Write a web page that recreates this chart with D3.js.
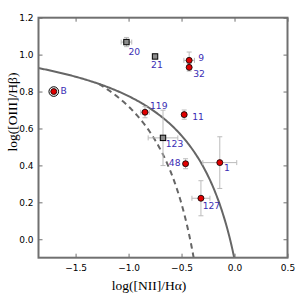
<!DOCTYPE html>
<html>
<head>
<meta charset="utf-8">
<script src="https://cdn.jsdelivr.net/npm/d3@7"></script>
<style>
  body { margin: 0; background: #fff; }
  svg { display: block; }
  .tick text { font-family: "DejaVu Sans", sans-serif; font-size: 9px; fill: #000; }
</style>
</head>
<body>
<div id="chart"></div>
<script>
// BPT diagram values
var names  = ["20", "21", "9", "32", "119", "11", "123", "48", "1", "127", "B"];
var logNII = [-1.02, -0.75, -0.428, -0.428, -0.845, -0.475, -0.675, -0.462, -0.139, -0.317, -1.706];
var logOIII = [1.068, 0.99, 0.969, 0.931, 0.688, 0.675, 0.549, 0.409, 0.415, 0.222, 0.80];
var errNII = [0.05, 0, 0.05, 0, 0.04, 0.02, 0.14, 0.02, 0.16, 0.085, 0];
var errOIII = [0.025, 0, 0.045, 0.02, 0.03, 0.025, 0.15, 0.027, 0.14, 0.095, 0];
var kind = ["sq", "sq", "c", "c", "c", "c", "sq", "c", "c", "c", "B"];

var xTicks = [-1.5, -1.0, -0.5, 0.0, 0.5];
var yTicks = [0.0, 0.2, 0.4, 0.6, 0.8, 1.0, 1.2];

var svgWidth = 300, svgHeight = 300;
var margin = { top: 17.7, right: 12.5, bottom: 42.3, left: 38.5 };
var width = svgWidth - margin.left - margin.right;
var height = svgHeight - margin.top - margin.bottom;

var svg = d3.select("#chart").append("svg")
  .attr("width", svgWidth)
  .attr("height", svgHeight);
var chart = svg.append("g")
  .attr("transform", "translate(" + margin.left + "," + margin.top + ")");

var x = d3.scaleLinear().domain([-1.85, 0.5]).range([0, width]);
var y = d3.scaleLinear().domain([-0.1, 1.2]).range([height, 0]);

var fmt = function(d) { return d3.format(".1f")(d).replace("-", "\u2212"); };
var spine = "#707070";

// clip for curves
chart.append("clipPath").attr("id", "clip")
  .append("rect").attr("width", width).attr("height", height);

// Kewley 2001 and Kauffmann 2003 lines
var kew = d3.range(-1.85, 0.0001, 0.01).map(function(v) { return [v, 0.61 / (v - 0.47) + 1.19]; });
var kau = d3.range(-1.28, -0.37, 0.005).map(function(v) { return [v, 0.61 / (v - 0.05) + 1.3]; });
var line = d3.line().x(function(d) { return x(d[0]); }).y(function(d) { return y(d[1]); });

chart.append("path").datum(kew).attr("d", line)
  .attr("clip-path", "url(#clip)")
  .attr("fill", "none").attr("stroke", "#666").attr("stroke-width", 2);
chart.append("path").datum(kau).attr("d", line)
  .attr("clip-path", "url(#clip)")
  .attr("fill", "none").attr("stroke", "#666").attr("stroke-width", 2)
  .attr("stroke-dasharray", "5.5,4");

// error bars
var eb = chart.append("g").attr("stroke", "#bbb").attr("stroke-width", 1).attr("fill", "none");
names.forEach(function(n, i) {
  var cx = x(logNII[i]), cy = y(logOIII[i]);
  if (errNII[i] > 0) {
    var x0 = x(logNII[i] - errNII[i]), x1 = x(logNII[i] + errNII[i]);
    eb.append("line").attr("x1", x0).attr("x2", x1).attr("y1", cy).attr("y2", cy);
    eb.append("line").attr("x1", x0).attr("x2", x0).attr("y1", cy - 2.5).attr("y2", cy + 2.5);
    eb.append("line").attr("x1", x1).attr("x2", x1).attr("y1", cy - 2.5).attr("y2", cy + 2.5);
  }
  if (errOIII[i] > 0) {
    var y0 = y(logOIII[i] - errOIII[i]), y1 = y(logOIII[i] + errOIII[i]);
    eb.append("line").attr("x1", cx).attr("x2", cx).attr("y1", y0).attr("y2", y1);
    eb.append("line").attr("x1", cx - 2.5).attr("x2", cx + 2.5).attr("y1", y0).attr("y2", y0);
    eb.append("line").attr("x1", cx - 2.5).attr("x2", cx + 2.5).attr("y1", y1).attr("y2", y1);
  }
});

// markers
names.forEach(function(n, i) {
  var cx = x(logNII[i]), cy = y(logOIII[i]);
  if (kind[i] == "sq") {
    chart.append("rect").attr("x", cx - 2.7).attr("y", cy - 2.7)
      .attr("width", 5.4).attr("height", 5.4)
      .attr("fill", "#8c8c8c").attr("stroke", "#000").attr("stroke-width", 1);
  } else {
    if (kind[i] == "B") {
      chart.append("circle").attr("cx", cx).attr("cy", cy).attr("r", 4.8)
        .attr("fill", "#fff").attr("stroke", "#000").attr("stroke-width", 1);
    }
    chart.append("circle").attr("cx", cx).attr("cy", cy).attr("r", 3)
      .attr("fill", "#e00000").attr("stroke", "#000").attr("stroke-width", 0.8);
  }
});

// labels
var labelOffset = [[2, 12.6], [-4, 11.4], [9, 1], [4, 9.7], [5, -3.4], [8, 5.3],
                   [2.7, 9.4], [-5, 2.4], [4.3, 8.4], [1.7, 11], [6.7, 2]];
chart.selectAll(".lbl").data(names).enter().append("text")
  .attr("class", "lbl")
  .attr("x", function(d, i) { return x(logNII[i]) + labelOffset[i][0]; })
  .attr("y", function(d, i) { return y(logOIII[i]) + labelOffset[i][1]; })
  .attr("text-anchor", function(d) { return d == "48" ? "end" : "start"; })
  .style("font-family", "DejaVu Sans, sans-serif")
  .style("font-size", "9.2px")
  .style("fill", "#3a2db4")
  .text(function(d) { return d; });

// axes, ticks inside on all four sides
var bottomAxis = d3.axisBottom(x).tickValues(xTicks).tickFormat(fmt).tickSizeInner(-4).tickSizeOuter(0).tickPadding(7);
var leftAxis = d3.axisLeft(y).tickValues(yTicks).tickFormat(fmt).tickSizeInner(-4).tickSizeOuter(0).tickPadding(5);
var topAxis = d3.axisTop(x).tickValues(xTicks).tickFormat("").tickSizeInner(-4).tickSizeOuter(0);
var rightAxis = d3.axisRight(y).tickValues(yTicks).tickFormat("").tickSizeInner(-4).tickSizeOuter(0);

var gb = chart.append("g").attr("transform", "translate(0," + height + ")").call(bottomAxis);
var gl = chart.append("g").call(leftAxis);
var gt = chart.append("g").call(topAxis);
var gr = chart.append("g").attr("transform", "translate(" + width + ",0)").call(rightAxis);
[gb, gl, gt, gr].forEach(function(g) {
  g.select(".domain").remove();
  g.selectAll(".tick line").attr("stroke", spine).attr("stroke-width", 1);
});

// frame
chart.append("rect").attr("width", width).attr("height", height)
  .attr("fill", "none").attr("stroke", spine).attr("stroke-width", 2);

// axis titles
svg.append("text")
  .attr("x", 149).attr("y", 290)
  .attr("text-anchor", "middle")
  .style("font-family", "Liberation Serif, serif")
  .style("font-size", "13.5px")
  .text("log([NII]/H\u03b1)");

svg.append("text")
  .attr("transform", "translate(17,112) rotate(-90)")
  .attr("text-anchor", "middle")
  .style("font-family", "Liberation Serif, serif")
  .style("font-size", "13.5px")
  .text("log([OIII]/H\u03b2)");
</script>
</body>
</html>
